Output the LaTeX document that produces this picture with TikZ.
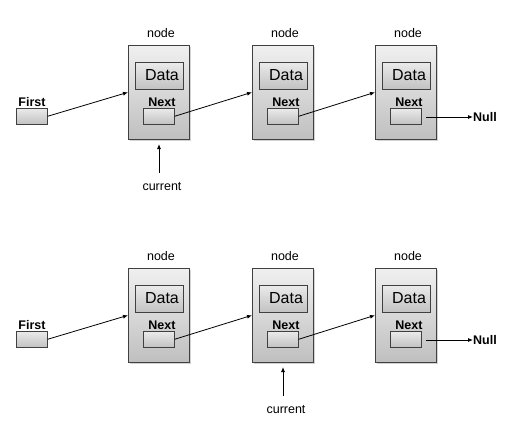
\documentclass[tikz,border=0pt]{standalone}
\usepackage{fontspec}
\setmainfont{Liberation Sans}
\usetikzlibrary{arrows.meta,shadows}
\tikzset{
  outerbox/.style={draw=black!75, line width=0.6pt, top color=black!6, bottom color=black!25,
    minimum width=61pt, minimum height=94pt, inner sep=0pt, anchor=north west,
    drop shadow={shadow xshift=1.2pt, shadow yshift=-1.2pt, opacity=0.35}},
  databox/.style={draw=black!75, line width=0.6pt, top color=black!8, bottom color=black!24,
    minimum width=48pt, minimum height=27pt, inner sep=0pt, anchor=north west,
    drop shadow={shadow xshift=1pt, shadow yshift=-1pt, opacity=0.3}},
  ptrbox/.style={draw=black!75, line width=0.6pt, top color=black!8, bottom color=black!24,
    minimum width=31pt, minimum height=16pt, inner sep=0pt, anchor=north west,
    drop shadow={shadow xshift=1pt, shadow yshift=-1pt, opacity=0.3}},
  lbl/.style={font=\fontsize{12.5}{13}\selectfont, inner sep=0pt},
  blbl/.style={font=\fontsize{12.5}{13}\selectfont\bfseries, inner sep=0pt},
  datatxt/.style={font=\fontsize{16}{17}\selectfont, inner sep=0pt},
  ptr/.style={line width=0.8pt, -{Latex[length=5pt,width=4pt]}}
}
\begin{document}
\begin{tikzpicture}[x=1pt,y=-1pt]
\useasboundingbox (0,0) rectangle (522,434);
\foreach \r/\dy/\cx in {a/0/159, b/223/283} {
  % First pointer
  \node[ptrbox] (first\r) at (16,108+\dy) {};
  \node[blbl] (firstlbl\r) at (32,102+\dy) {First};
  \foreach \i/\lx in {1/128, 2/252, 3/375} {
    \node[outerbox] (n\i\r) at (\lx,45+\dy) {};
    \node[lbl] (nl\i\r) at (\lx+33,33+\dy) {node};
    \node[databox] (d\i\r) at (\lx+7,62+\dy) {};
    \node[datatxt] (dt\i\r) at (\lx+34,75.5+\dy) {Data};
    \node[blbl] (xl\i\r) at (\lx+34,102+\dy) {Next};
    \node[ptrbox] (x\i\r) at (\lx+15,108+\dy) {};
  }
  \draw[ptr] (first\r.east) -- (n1\r.west);
  \draw[ptr] (x1\r.east) -- (n2\r.west);
  \draw[ptr] (x2\r.east) -- (n3\r.west);
  \node[blbl, anchor=west] (null\r) at (473,117+\dy) {Null};
  \coordinate (ns\r) at (426,117+\dy);
  \draw[ptr] (ns\r) -- (null\r.west);
  \node[lbl] (cur\r) at (\cx+3,187+\dy) {current};
  \coordinate (ct\r) at (\cx,173+\dy);
  \coordinate (ch\r) at (\cx,144+\dy);
  \draw[ptr] (ct\r) -- (ch\r);
}
\end{tikzpicture}
\end{document}
